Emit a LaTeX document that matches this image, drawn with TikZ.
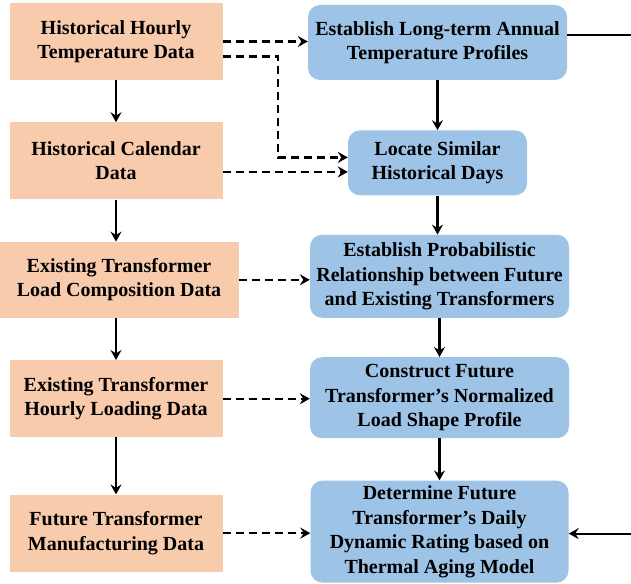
\documentclass[tikz,border=0pt]{standalone}
\usepackage{fontspec}
\setmainfont{Liberation Serif}
\usetikzlibrary{arrows.meta,positioning}
\definecolor{datafill}{HTML}{F8CBAD}
\definecolor{stepfill}{HTML}{9DC3E6}
\tikzset{datanode/.style={
    % The shape:
    rectangle,
    % The size:
    minimum width=213pt,
    minimum height=77pt,
    inner sep=2pt,
    % The filling:
    fill=datafill,
    % Font
    font=\fontsize{20}{24.5}\selectfont\bfseries,
    align=center,
    },
    stepnode/.style={
    rectangle,rounded corners=12pt,
    minimum width=259pt,
    inner sep=2pt,
    fill=stepfill,
    font=\fontsize{20}{24.5}\selectfont\bfseries,
    align=center,
    },
    flow/.style={
    line width=2.2pt,
    -{Stealth[length=10pt,width=11pt,inset=3.5pt]},
    },
    feed/.style={
    flow,
    dash pattern=on 8pt off 5pt,
    },
}

\begin{document}
\begin{tikzpicture}[x=1pt,y=-1pt]
    \useasboundingbox (0,0) rectangle (631,583);
    \clip (0,0) rectangle (631,583);

    % data on the left
    \node (histtemp) [datanode] at (116,41.5)           {Historical Hourly\\Temperature Data};
    \node (calendar) [datanode,below=42pt of histtemp] {Historical Calendar\\Data};
    \node (loadcomp) [datanode,minimum width=239pt,minimum height=76pt,below=42pt of calendar,xshift=3pt]
                                                        {Existing Transformer\\Load Composition Data};
    \node (hourly)   [datanode,below=42pt of loadcomp,xshift=-3pt] {Existing Transformer\\Hourly Loading Data};
    \node (manuf)    [datanode,below=57pt of hourly]   {Future Transformer\\Manufacturing Data};

    % steps on the right
    \node (annual)   [stepnode,minimum height=75pt] at (437.5,42.5) {Establish Long-term Annual\\Temperature Profiles};
    \node (similar)  [stepnode,minimum width=179pt,minimum height=65pt,below=50pt of annual]
                                                        {Locate Similar\\Historical Days};
    \node (prob)     [stepnode,minimum height=83pt,below=39pt of similar,xshift=2pt]
                                                        {Establish Probabilistic\\Relationship between Future\\and Existing Transformers};
    \node (shape)    [stepnode,minimum height=81pt,below=39pt of prob]
                                                        {Construct Future\\Transformer's Normalized\\Load Shape Profile};
    \node (rating)   [stepnode,minimum width=258pt,minimum height=102pt,below=42pt of shape]
                                                        {Determine Future\\Transformer's Daily\\Dynamic Rating based on\\Thermal Aging Model};

    % left column
    \draw[flow] (histtemp.south) -- (histtemp.south |- calendar.north);
    \draw[flow] (calendar.south) -- (calendar.south |- loadcomp.north);
    \draw[flow] (calendar.south |- loadcomp.south) -- (hourly.north);
    \draw[flow] (hourly.south) -- (manuf.north);

    % right column
    \draw[flow] (annual.south) -- (annual.south |- similar.north);
    \draw[flow] ([xshift=-2pt]prob.north |- similar.south) -- ([xshift=-2pt]prob.north);
    \draw[flow] (prob.south) -- (shape.north);
    \draw[flow] (shape.south) -- (shape.south |- rating.north);
    \draw[flow] ([yshift=7.5pt]annual.east) -- ++(90,0) |- ([yshift=-2pt]rating.east);

    % data feeding the steps
    \draw[feed] (histtemp.east) -- (histtemp.east -| annual.west);
    \draw[feed] ([yshift=-15pt]histtemp.east) -- ++(55.5,0) |- ([yshift=5.5pt]similar.west);
    \draw[feed] ([yshift=-11pt]calendar.east) -- ([yshift=-11pt]calendar.east -| similar.west);
    \draw[feed] (loadcomp.east) -- (loadcomp.east -| prob.west);
    \draw[feed] (hourly.east) -- (hourly.east -| shape.west);
    \draw[feed] (manuf.east) -- (manuf.east -| rating.west);
\end{tikzpicture}
\end{document}
